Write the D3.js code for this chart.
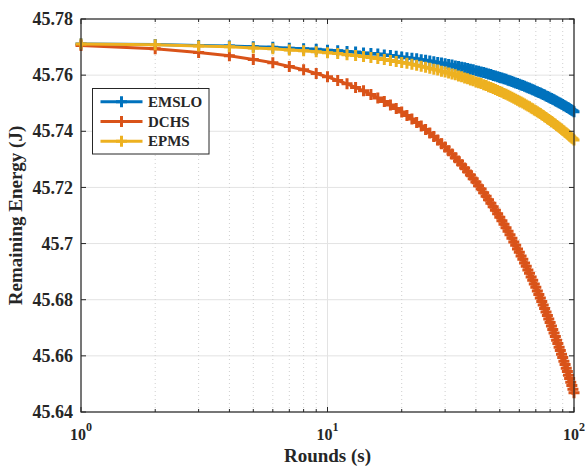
<!DOCTYPE html>
<html>
  <head>
    <title>Remaining Energy vs Rounds</title>
    <script src="https://d3js.org/d3.v7.min.js"></script>
    <style>
      body { margin: 0; background-color: white; }
      text { font-family: 'Liberation Serif', 'Times New Roman', serif; font-weight: bold; fill: #262626; }
    </style>
  </head>
  <body>
    <svg id="canvas" width="588" height="471"></svg>

    <script>
      // rounds 1..100 (one marker per round)
      const rounds = [
        1, 2, 3, 4, 5, 6, 7, 8, 9, 10, 11, 12, 13, 14, 15, 16, 17, 18, 19, 20,
        21, 22, 23, 24, 25, 26, 27, 28, 29, 30, 31, 32, 33, 34, 35, 36, 37, 38, 39, 40,
        41, 42, 43, 44, 45, 46, 47, 48, 49, 50, 51, 52, 53, 54, 55, 56, 57, 58, 59, 60,
        61, 62, 63, 64, 65, 66, 67, 68, 69, 70, 71, 72, 73, 74, 75, 76, 77, 78, 79, 80,
        81, 82, 83, 84, 85, 86, 87, 88, 89, 90, 91, 92, 93, 94, 95, 96, 97, 98, 99, 100
      ]

      const emslo = [
        45.7711, 45.7709, 45.7706, 45.7704, 45.7701, 45.7699, 45.7696, 45.7694, 45.7692, 45.7689,
        45.7687, 45.7684, 45.7682, 45.7679, 45.7677, 45.7675, 45.7672, 45.7670, 45.7667, 45.7665,
        45.7662, 45.7660, 45.7658, 45.7655, 45.7653, 45.7650, 45.7648, 45.7645, 45.7643, 45.7641,
        45.7638, 45.7636, 45.7633, 45.7631, 45.7628, 45.7626, 45.7624, 45.7621, 45.7619, 45.7616,
        45.7614, 45.7611, 45.7609, 45.7607, 45.7604, 45.7602, 45.7599, 45.7597, 45.7594, 45.7592,
        45.7590, 45.7587, 45.7585, 45.7582, 45.7580, 45.7577, 45.7575, 45.7572, 45.7570, 45.7568,
        45.7565, 45.7563, 45.7560, 45.7558, 45.7555, 45.7553, 45.7551, 45.7548, 45.7546, 45.7543,
        45.7541, 45.7538, 45.7536, 45.7534, 45.7531, 45.7529, 45.7526, 45.7524, 45.7521, 45.7519,
        45.7517, 45.7514, 45.7512, 45.7509, 45.7507, 45.7504, 45.7502, 45.7500, 45.7497, 45.7495,
        45.7492, 45.7490, 45.7487, 45.7485, 45.7483, 45.7480, 45.7478, 45.7475, 45.7473, 45.7470
      ]

      const dchs = [
        45.7706, 45.7694, 45.7681, 45.7669, 45.7656, 45.7644, 45.7631, 45.7619, 45.7606, 45.7594,
        45.7581, 45.7569, 45.7556, 45.7544, 45.7531, 45.7519, 45.7506, 45.7494, 45.7481, 45.7469,
        45.7456, 45.7444, 45.7431, 45.7419, 45.7406, 45.7394, 45.7381, 45.7369, 45.7356, 45.7344,
        45.7331, 45.7319, 45.7306, 45.7294, 45.7281, 45.7269, 45.7256, 45.7244, 45.7231, 45.7219,
        45.7206, 45.7194, 45.7181, 45.7169, 45.7156, 45.7144, 45.7131, 45.7119, 45.7106, 45.7094,
        45.7081, 45.7069, 45.7056, 45.7044, 45.7031, 45.7019, 45.7006, 45.6994, 45.6981, 45.6969,
        45.6956, 45.6944, 45.6931, 45.6919, 45.6906, 45.6894, 45.6881, 45.6869, 45.6856, 45.6844,
        45.6831, 45.6819, 45.6806, 45.6794, 45.6781, 45.6769, 45.6756, 45.6744, 45.6731, 45.6719,
        45.6706, 45.6694, 45.6681, 45.6669, 45.6656, 45.6644, 45.6631, 45.6619, 45.6606, 45.6594,
        45.6581, 45.6569, 45.6556, 45.6544, 45.6531, 45.6519, 45.6506, 45.6494, 45.6481, 45.6469
      ]

      const epms = [
        45.7711, 45.7708, 45.7704, 45.7701, 45.7697, 45.7694, 45.7690, 45.7687, 45.7683, 45.7680,
        45.7677, 45.7673, 45.7670, 45.7666, 45.7663, 45.7659, 45.7656, 45.7652, 45.7649, 45.7645,
        45.7642, 45.7639, 45.7635, 45.7632, 45.7628, 45.7625, 45.7621, 45.7618, 45.7614, 45.7611,
        45.7608, 45.7604, 45.7601, 45.7597, 45.7594, 45.7590, 45.7587, 45.7583, 45.7580, 45.7576,
        45.7573, 45.7570, 45.7566, 45.7563, 45.7559, 45.7556, 45.7552, 45.7549, 45.7545, 45.7542,
        45.7539, 45.7535, 45.7532, 45.7528, 45.7525, 45.7521, 45.7518, 45.7514, 45.7511, 45.7507,
        45.7504, 45.7501, 45.7497, 45.7494, 45.7490, 45.7487, 45.7483, 45.7480, 45.7476, 45.7473,
        45.7470, 45.7466, 45.7463, 45.7459, 45.7456, 45.7452, 45.7449, 45.7445, 45.7442, 45.7438,
        45.7435, 45.7432, 45.7428, 45.7425, 45.7421, 45.7418, 45.7414, 45.7411, 45.7407, 45.7404,
        45.7401, 45.7397, 45.7394, 45.7390, 45.7387, 45.7383, 45.7380, 45.7376, 45.7373, 45.7369
      ]

      const seriesNames = ['EMSLO', 'DCHS', 'EPMS']
      const seriesColors = ['#0072BD', '#D95319', '#EDB120']
      const seriesValues = [emslo, dchs, epms]

      const yTicks = [45.64, 45.66, 45.68, 45.7, 45.72, 45.74, 45.76, 45.78]
      const yTickLabels = ['45.64', '45.66', '45.68', '45.7', '45.72', '45.74', '45.76', '45.78']
      const xMajor = [1, 10, 100]
      const xExponents = ['0', '1', '2']
      const xMinor = [2, 3, 4, 5, 6, 7, 8, 9, 20, 30, 40, 50, 60, 70, 80, 90]

      const margin = { top: 19, right: 14, bottom: 59, left: 81 }
      const svg = d3.select('#canvas')
      const width = +svg.attr('width') - margin.left - margin.right
      const height = +svg.attr('height') - margin.top - margin.bottom
      const g = svg.append('g').attr('transform', `translate(${margin.left}, ${margin.top})`)

      svg.insert('rect', 'g').attr('width', 588).attr('height', 471).attr('fill', 'white')

      const x = d3.scaleLog().domain([1, 100]).range([0, width])
      const y = d3.scaleLinear().domain([45.64, 45.78]).range([height, 0])

      // grid
      const grid = g.append('g')
      grid.selectAll('.hgrid').data(yTicks).enter().append('line')
        .attr('x1', 0).attr('x2', width)
        .attr('y1', d => y(d)).attr('y2', d => y(d))
        .attr('stroke', '#e3e3e3').attr('stroke-width', 1)
      grid.selectAll('.vgrid').data(xMajor).enter().append('line')
        .attr('x1', d => x(d)).attr('x2', d => x(d))
        .attr('y1', 0).attr('y2', height)
        .attr('stroke', '#e3e3e3').attr('stroke-width', 1)
      grid.selectAll('.vminor').data(xMinor).enter().append('line')
        .attr('x1', d => x(d)).attr('x2', d => x(d))
        .attr('y1', 0).attr('y2', height)
        .attr('stroke', '#cfcfcf').attr('stroke-width', 1)
        .attr('stroke-dasharray', '1,3')

      // series
      const line = d3.line().x(d => x(d[0])).y(d => y(d[1]))
      const markerSize = 5.5

      seriesValues.forEach((vals, i) => {
        const pts = rounds.map((r, j) => [r, vals[j]])
        const s = g.append('g')
        s.append('path')
          .datum(pts)
          .attr('d', line)
          .attr('fill', 'none')
          .attr('stroke', seriesColors[i])
          .attr('stroke-width', 3)
        s.selectAll('path.m').data(pts).enter().append('path')
          .attr('class', 'm')
          .attr('d', d => `M${x(d[0]) - markerSize},${y(d[1])}H${x(d[0]) + markerSize}M${x(d[0])},${y(d[1]) - markerSize}V${y(d[1]) + markerSize}`)
          .attr('stroke', seriesColors[i])
          .attr('stroke-width', 3)
          .attr('fill', 'none')
      })

      // axes box
      const axisColor = '#262626'
      const tickLen = 5
      g.append('rect')
        .attr('width', width).attr('height', height)
        .attr('fill', 'none').attr('stroke', axisColor).attr('stroke-width', 1.2)

      const ticks = g.append('g').attr('stroke', axisColor).attr('stroke-width', 1)
      yTicks.forEach(v => {
        ticks.append('line').attr('x1', 0).attr('x2', tickLen).attr('y1', y(v)).attr('y2', y(v))
        ticks.append('line').attr('x1', width).attr('x2', width - tickLen).attr('y1', y(v)).attr('y2', y(v))
      })
      xMajor.forEach(v => {
        ticks.append('line').attr('x1', x(v)).attr('x2', x(v)).attr('y1', height).attr('y2', height - tickLen)
        ticks.append('line').attr('x1', x(v)).attr('x2', x(v)).attr('y1', 0).attr('y2', tickLen)
      })
      xMinor.forEach(v => {
        ticks.append('line').attr('x1', x(v)).attr('x2', x(v)).attr('y1', height).attr('y2', height - 3)
        ticks.append('line').attr('x1', x(v)).attr('x2', x(v)).attr('y1', 0).attr('y2', 3)
      })

      // tick labels
      g.selectAll('.ylab').data(yTicks).enter().append('text')
        .attr('x', -8)
        .attr('y', d => y(d))
        .attr('dy', '0.34em')
        .attr('text-anchor', 'end')
        .style('font-size', '18px')
        .text((d, i) => yTickLabels[i])

      const xl = g.selectAll('.xlab').data(xMajor).enter().append('text')
        .attr('x', d => x(d))
        .attr('y', height + 28)
        .attr('text-anchor', 'middle')
        .style('font-size', '16px')
      xl.append('tspan').text('10')
      xl.append('tspan').attr('dy', -9).style('font-size', '12px').text((d, i) => xExponents[i])

      // axis titles
      g.append('text')
        .attr('x', width / 2)
        .attr('y', height + 50)
        .attr('text-anchor', 'middle')
        .style('font-size', '19px')
        .text('Rounds (s)')

      g.append('text')
        .attr('transform', `translate(${22 - margin.left}, ${height / 2}) rotate(-90)`)
        .attr('text-anchor', 'middle')
        .style('font-size', '19px')
        .text('Remaining Energy (J)')

      // legend
      const leg = svg.append('g').attr('transform', 'translate(92.5, 88.5)')
      leg.append('rect')
        .attr('width', 116.5).attr('height', 65.5)
        .attr('fill', 'white').attr('stroke', axisColor).attr('stroke-width', 1)
      seriesNames.forEach((name, i) => {
        const cy = 13.3 + i * 19.7
        leg.append('line')
          .attr('x1', 8).attr('x2', 50).attr('y1', cy).attr('y2', cy)
          .attr('stroke', seriesColors[i]).attr('stroke-width', 3)
        leg.append('path')
          .attr('d', `M${29 - markerSize},${cy}H${29 + markerSize}M29,${cy - markerSize}V${cy + markerSize}`)
          .attr('stroke', seriesColors[i]).attr('stroke-width', 3)
        leg.append('text')
          .attr('x', 55.5).attr('y', cy).attr('dy', '0.35em')
          .style('font-size', '15px')
          .text(name)
      })
    </script>
  </body>
</html>
